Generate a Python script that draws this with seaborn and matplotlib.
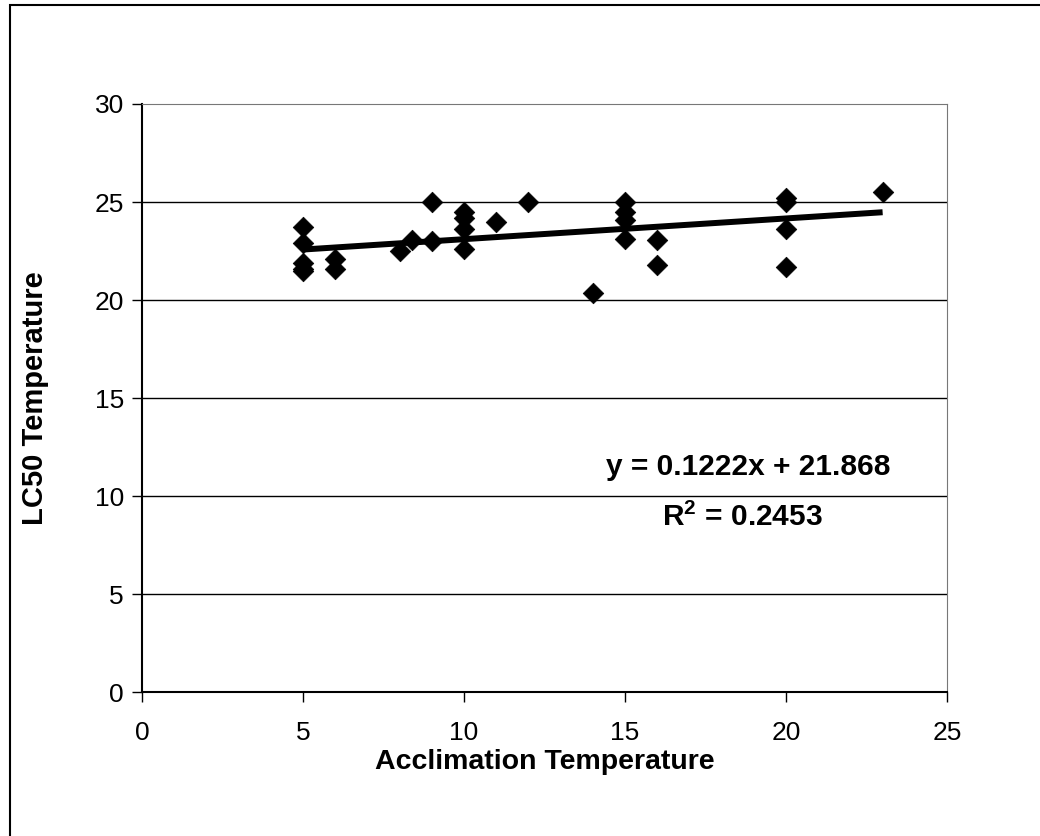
import numpy as np
import pandas as pd
import matplotlib
matplotlib.use("Agg")
import matplotlib.pyplot as plt
import seaborn as sns
from matplotlib.patches import Rectangle

acclimation = [5, 5, 5, 5, 5, 6, 6, 8, 8.4, 9, 9, 10, 10, 10, 10, 11, 12, 14,
               15, 15, 15, 15, 16, 16, 20, 20, 20, 20, 23]
lc50 = [23.7, 22.9, 21.9, 21.6, 21.5, 22.1, 21.6, 22.5, 23.05, 25.0, 23.0,
        24.5, 24.2, 23.6, 22.6, 24.0, 25.0, 20.35,
        25.0, 24.5, 24.1, 23.1, 23.05, 21.8, 25.2, 25.0, 23.6, 21.7, 25.5]
x_ticks = [0, 5, 10, 15, 20, 25]
y_ticks = [0, 5, 10, 15, 20, 25, 30]
eq_text = "y = 0.1222x + 21.868"
r2_text = "R$^2$ = 0.2453"

df = pd.DataFrame({"Acclimation Temperature": acclimation,
                   "LC50 Temperature": lc50})

sns.set_theme(style="white")
plt.rcParams['font.family'] = ['Liberation Sans', 'DejaVu Sans']
plt.rcParams['mathtext.fontset'] = 'custom'
plt.rcParams['mathtext.rm'] = 'Liberation Sans:bold'
plt.rcParams['text.color'] = 'black'
plt.rcParams['axes.labelcolor'] = 'black'
plt.rcParams['xtick.color'] = 'black'
plt.rcParams['ytick.color'] = 'black'

fig = plt.figure(figsize=(10.4, 8.36), dpi=100)
ax = fig.add_axes([0.1365, 0.1722, 0.9106 - 0.1365, 0.8756 - 0.1722])

for yv in y_ticks[1:-1]:
    ax.axhline(yv, color='black', lw=1.0, zorder=1)

sns.regplot(data=df, x="Acclimation Temperature", y="LC50 Temperature",
            ax=ax, ci=None, truncate=True, marker='D',
            scatter_kws=dict(s=110, color='black', edgecolor='black', alpha=1,
                             linewidths=0.5, zorder=3),
            line_kws=dict(color='black', lw=4.3, zorder=2, solid_capstyle='butt'))

ax.set_xlim(0, 25)
ax.set_ylim(0, 30)
ax.set_xticks(x_ticks)
ax.set_yticks(y_ticks)
ax.tick_params(axis='x', which='major', labelsize=19, direction='out',
               length=7, width=1.0, color='black', labelcolor='black', pad=14, bottom=True)
ax.tick_params(axis='y', which='major', labelsize=19, direction='out',
               length=7, width=1.0, color='black', labelcolor='black', pad=6, left=True)
ax.set_xlabel("Acclimation Temperature", fontsize=20.5, fontweight='bold',
              labelpad=3, color='black')
ax.set_ylabel("LC50 Temperature", fontsize=21, fontweight='bold',
              labelpad=33, color='black')

for s in ['left', 'bottom']:
    ax.spines[s].set_color('black')
    ax.spines[s].set_linewidth(1.5)
for s in ['top', 'right']:
    ax.spines[s].set_color('#777777')
    ax.spines[s].set_linewidth(0.8)
    ax.spines[s].set_linestyle((0, (2, 1)))

ax.text(0.753, 0.383, eq_text, transform=ax.transAxes, ha='center', va='center',
        fontsize=21.5, fontweight='bold', color='black')
ax.text(0.746, 0.298, r2_text, transform=ax.transAxes, ha='center', va='center',
        fontsize=21.5, fontweight='bold', color='black')

fig.patches.append(Rectangle((10 / 1040, -0.1), 1.2, 1 - 5 / 836 + 0.1,
                             transform=fig.transFigure, fill=False,
                             edgecolor='black', lw=1.5))

fig.savefig("out.png", dpi=100)
